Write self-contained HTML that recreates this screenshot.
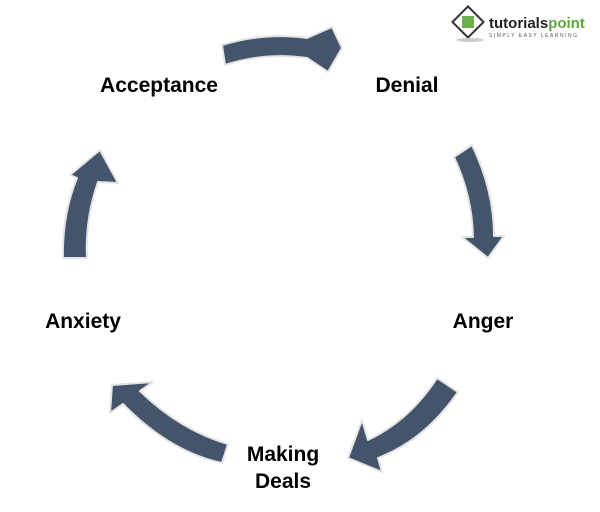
<!DOCTYPE html>
<html><head><style>
html,body{margin:0;padding:0;background:#fff;}
svg{display:block;}
text{font-family:"Liberation Sans",sans-serif;font-weight:bold;font-size:21px;fill:#000;}
</style></head><body>
<svg width="600" height="512" viewBox="0 0 600 512">
<g fill="#44546A" stroke="#e4e4e4" stroke-width="2" stroke-linejoin="round">
<path d="M222,45 Q265,32 307,38 L332,27 L342,48 L328,72 L307,58 Q265,52 225,65 Z"/>
<path d="M454,157 L472,145 Q494,190 494,236 L504,236 L488,258 L462,237 L473,237 Q472,195 454,157 Z"/>
<path d="M437,378 L458,392 Q425,440 378,458 L382,472 L348,458 L362,420 L368,440 Q410,420 437,378 Z"/>
<path d="M228,444 Q180,430 140,391 L153,382 L112,385 L110,413 L123,404 Q170,452 222,463 Z"/>
<path d="M63,258 Q62,215 77,178 L70,175 L100,150 L118,183 L98,182 Q85,220 87,258 Z"/>
</g>
<text x="159" y="92" text-anchor="middle">Acceptance</text>
<text x="407" y="92" text-anchor="middle">Denial</text>
<text x="483" y="328" text-anchor="middle">Anger</text>
<text x="83" y="328" text-anchor="middle">Anxiety</text>
<text x="283" y="461" text-anchor="middle">Making</text>
<text x="283" y="488" text-anchor="middle">Deals</text>
<g>
<rect x="457" y="11" width="22" height="22" fill="#fff" stroke="#333" stroke-width="2" transform="rotate(45 468 22)"/>
<rect x="462" y="16" width="12" height="12" fill="#6ab04c"/>
<ellipse cx="470" cy="40" rx="14" ry="2" fill="#ccc"/>
<text x="489" y="28" style="font-size:15px;fill:#222">tutorials<tspan fill="#5aa83c">point</tspan></text>
<text x="489" y="37" style="font-size:5px;font-weight:normal;fill:#555;letter-spacing:1.5px">SIMPLY EASY LEARNING</text>
</g>
</svg>
</body></html>
